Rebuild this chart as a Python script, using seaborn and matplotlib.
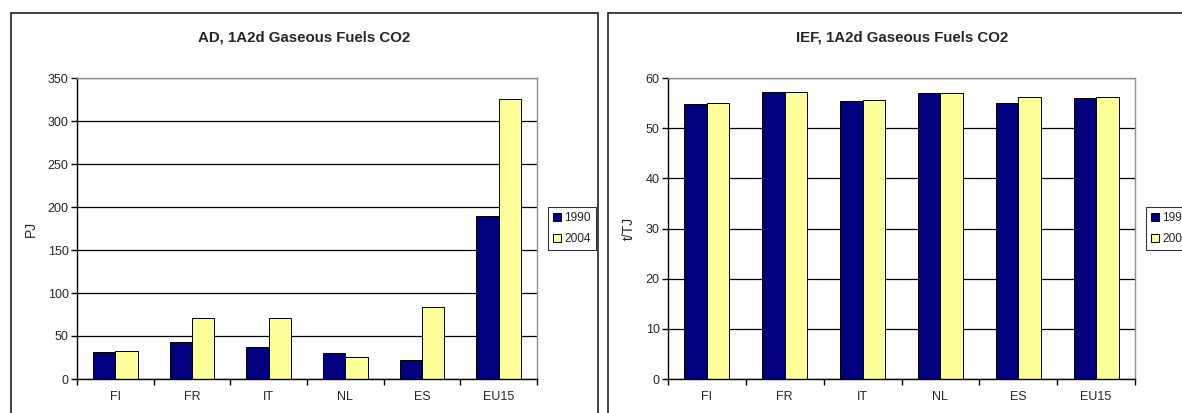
import matplotlib
matplotlib.use("Agg")
import matplotlib.pyplot as plt
from matplotlib.patches import Patch, Rectangle
import numpy as np
import pandas as pd
import seaborn as sns

# Data
countries = ["FI", "FR", "IT", "NL", "ES", "EU15"]
years = ["1990", "2004"]
ad_1990 = [31, 42.5, 37, 30.5, 22.5, 189.5]
ad_2004 = [32.5, 70.5, 70.5, 26, 83.5, 326]
ief_1990 = [54.9, 57.2, 55.4, 57.0, 55.0, 56.0]
ief_2004 = [55.1, 57.2, 55.6, 57.0, 56.2, 56.2]
colors = ["#000080", "#FFFF99"]

sns.set_theme(style="white")
plt.rcParams["font.family"] = ["Liberation Sans", "DejaVu Sans"]

W, H = 1182, 413
fig = plt.figure(figsize=(W / 100, H / 100), dpi=100)


def px_rect(x0, y0, x1, y1):
    return [x0 / W, 1 - y1 / H, (x1 - x0) / W, (y1 - y0) / H]


def draw_panel(rect, v1990, v2004, ymax, ystep, ylabel, title, title_x, legend_x):
    ax = fig.add_axes(rect)
    df = pd.DataFrame({
        "country": countries * 2,
        "year": [years[0]] * len(countries) + [years[1]] * len(countries),
        "value": list(v1990) + list(v2004),
    })
    sns.barplot(data=df, x="country", y="value", hue="year", order=countries,
                hue_order=years, palette=colors, width=0.58, edgecolor="black",
                linewidth=0.7, saturation=1, legend=False, ax=ax)
    ax.set_xlim(-0.5, len(countries) - 0.5)
    ax.set_ylim(0, ymax)
    ax.set_yticks(np.arange(0, ymax + 1, ystep))
    ax.yaxis.grid(True, color="black", linewidth=0.9)
    ax.set_axisbelow(True)
    ax.set_xlabel("")
    ax.set_ylabel(ylabel, fontsize=10, labelpad=7)
    for s in ["left", "bottom"]:
        ax.spines[s].set_color("black")
        ax.spines[s].set_linewidth(1.0)
    for s in ["top", "right"]:
        ax.spines[s].set_color("#909090")
        ax.spines[s].set_linewidth(1.0)
    ax.tick_params(axis="y", which="major", direction="out", length=4,
                   width=1, color="black", labelsize=9, pad=2, left=True)
    ax.tick_params(axis="x", which="major", length=0, labelsize=9, pad=9)
    ax.set_xticks(np.arange(-0.5, len(countries), 1.0), minor=True)
    ax.tick_params(axis="x", which="minor", direction="out", length=4,
                   width=1, color="black", bottom=True)
    fig.text(title_x / W, 1 - 37 / H, title, ha="center", va="center",
             fontsize=10.8, fontweight="bold")
    handles = [Patch(facecolor=c, edgecolor="black", linewidth=0.7) for c in colors]
    leg = fig.legend(handles, years, loc="upper left",
                     bbox_to_anchor=(legend_x / W, 1 - 207 / H),
                     fontsize=8.6, frameon=True, fancybox=False, handlelength=0.65,
                     handleheight=0.65, handletextpad=0.25, borderpad=0.45,
                     borderaxespad=0, labelspacing=0.7)
    leg.get_frame().set_edgecolor("black")
    leg.get_frame().set_linewidth(0.8)
    return ax


# Outer chart frames
fig.add_artist(Rectangle((11 / W, -0.05), (598 - 11) / W, 1 - 13 / H + 0.05,
                         transform=fig.transFigure, fill=False,
                         edgecolor="#202020", linewidth=1.2))
fig.add_artist(Rectangle((608 / W, -0.05), 0.5, 1 - 13 / H + 0.05,
                         transform=fig.transFigure, fill=False,
                         edgecolor="#202020", linewidth=1.2))

draw_panel(px_rect(77, 78, 537, 379), ad_1990, ad_2004, 350, 50, "PJ",
           "AD, 1A2d Gaseous Fuels CO2", 304, 548)
draw_panel(px_rect(668, 78, 1135, 379), ief_1990, ief_2004, 60, 10, "t/TJ",
           "IEF, 1A2d Gaseous Fuels CO2", 902, 1146)

fig.savefig("out.png", dpi=100)
